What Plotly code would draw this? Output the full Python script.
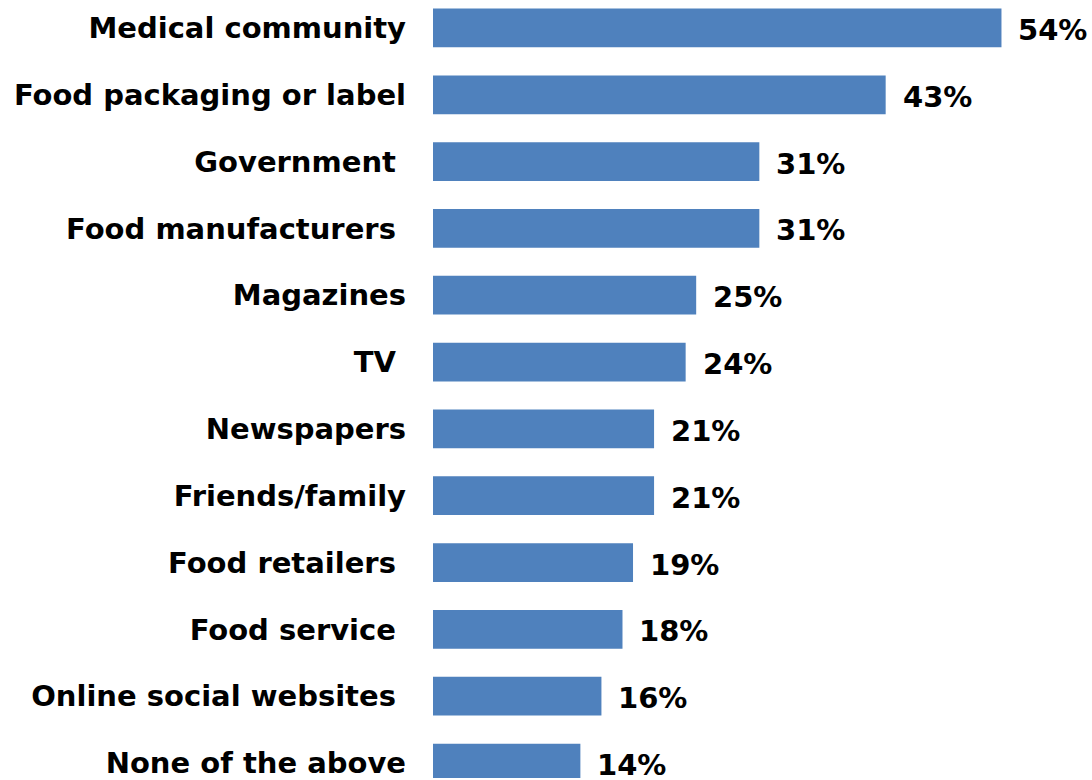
import plotly.graph_objects as go

# Survey sources, top to bottom, with share of respondents (%)
categories = [
    "Medical community",
    "Food packaging or label",
    "Government\u00a0",
    "Food manufacturers\u00a0",
    "Magazines",
    "TV\u00a0",
    "Newspapers",
    "Friends/family",
    "Food retailers\u00a0",
    "Food service\u00a0",
    "Online social websites\u00a0",
    "None of the above",
]
values = [54, 43, 31, 31, 25, 24, 21, 21, 19, 18, 16, 14]
value_labels = [f"{v}%" for v in values]

BAR_COLOR = "#4F81BD"
FONT = dict(family="DejaVu Sans", size=29, color="#000000", weight="bold")

fig = go.Figure(
    go.Bar(
        x=values,
        y=categories,
        orientation="h",
        marker=dict(color=BAR_COLOR, line=dict(width=0)),
        width=0.58,
        hoverinfo="skip",
    )
)

# Percent labels to the right of each bar
for cat, v, lab in zip(categories, values, value_labels):
    fig.add_annotation(
        x=v, y=cat, text=lab, showarrow=False,
        xanchor="left", yanchor="middle", xshift=15, yshift=-2,
        font=FONT,
    )

fig.update_layout(
    width=1092, height=780,
    margin=dict(l=433, r=0, t=0, b=0),
    paper_bgcolor="white", plot_bgcolor="white",
    showlegend=False,
    xaxis=dict(range=[0, 62.6], visible=False),
    yaxis=dict(
        type="category",
        categoryorder="array", categoryarray=categories,
        range=[11.224, -0.418],
        showgrid=False, zeroline=False, showline=False,
        ticks="", tickfont=FONT, ticklabelstandoff=26,
    ),
)

fig.write_html("out.html")
